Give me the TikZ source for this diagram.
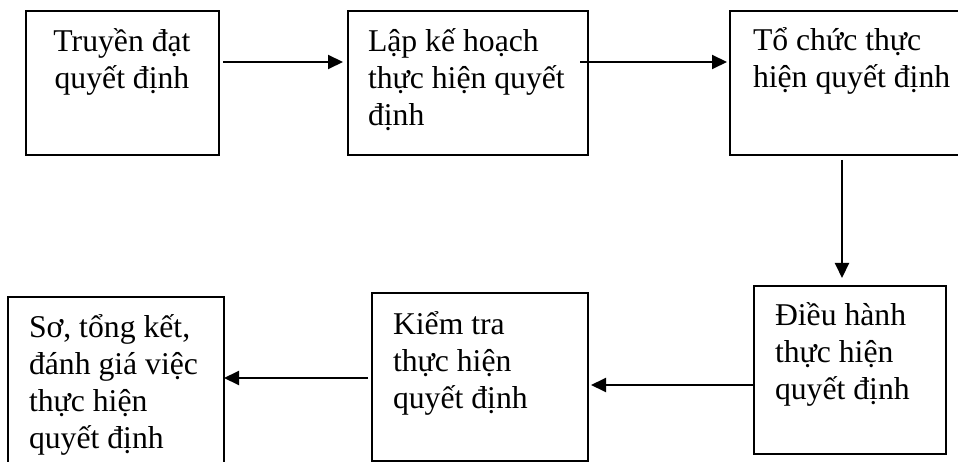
\documentclass[tikz,border=0pt]{standalone}
\usepackage{fontspec}
\setmainfont{Liberation Serif}
\usetikzlibrary{arrows.meta}
\newcommand{\lines}[2]{\begin{tabular}[t]{@{}#1@{}}#2\end{tabular}}
\begin{document}
\begin{tikzpicture}[x=1pt,y=-1pt,
  box/.style={draw=black,line width=1.8pt,rectangle,inner sep=0pt,outer sep=0pt,anchor=north west},
  lbl/.style={inner sep=0pt,outer sep=0pt,font=\fontsize{31.7}{37}\selectfont},
  arr/.style={line width=2pt,-{Triangle[length=15pt,width=14pt]}}]
\useasboundingbox (0,0) rectangle (958,462);
\clip (0,0) rectangle (958,462);
\fill[white] (0,0) rectangle (958,462);
% boxes
\node[box,minimum width=193pt,minimum height=144pt] (b1) at (26,11) {};
\node[box,minimum width=240pt,minimum height=144pt] (b2) at (348,11) {};
\node[box,minimum width=240pt,minimum height=144pt] (b3) at (730,11) {};
\node[box,minimum width=192pt,minimum height=168pt] (b4) at (754,286) {};
\node[box,minimum width=216pt,minimum height=168pt] (b5) at (372,293) {};
\node[box,minimum width=216pt,minimum height=185pt] (b6) at (8,297) {};
% texts
\node[lbl,anchor=base] (t1) at (122,52) {\lines{c}{Truyền đạt\\quyết định}};
\node[lbl,anchor=base west] (t2) at (368,52) {\lines{l}{Lập kế hoạch\\thực hiện quyết\\định}};
\node[lbl,anchor=base west] (t3) at (753,51) {\lines{l}{Tổ chức thực\\hiện quyết định}};
\node[lbl,anchor=base west] (t4) at (775,325) {\lines{l}{Điều hành\\thực hiện\\quyết định}};
\node[lbl,anchor=base west] (t5) at (393,334) {\lines{l}{Kiểm tra\\thực hiện\\quyết định}};
\node[lbl,anchor=base west] (t6) at (29,337) {\lines{l}{Sơ, tổng kết,\\đánh giá việc\\thực hiện\\quyết định}};
% connector helpers
\coordinate (r1) at (0,62);
\coordinate (cv) at (842,0);
\coordinate (r4) at (0,385);
\coordinate (r5) at (0,378);
% connectors
\draw[arr,shorten <=4pt,shorten >=5pt] (b1.east |- r1) -- (b2.west |- r1);
\draw[arr,shorten <=-8pt,shorten >=3pt] (b2.east |- r1) -- (b3.west |- r1);
\draw[arr,shorten <=5pt,shorten >=8pt] (b3.south -| cv) -- (b4.north -| cv);
\draw[arr,shorten >=3pt] (b4.west |- r4) -- (b5.east |- r4);
\draw[arr,shorten <=4pt] (b5.west |- r5) -- (b6.east |- r5);
\end{tikzpicture}
\end{document}
